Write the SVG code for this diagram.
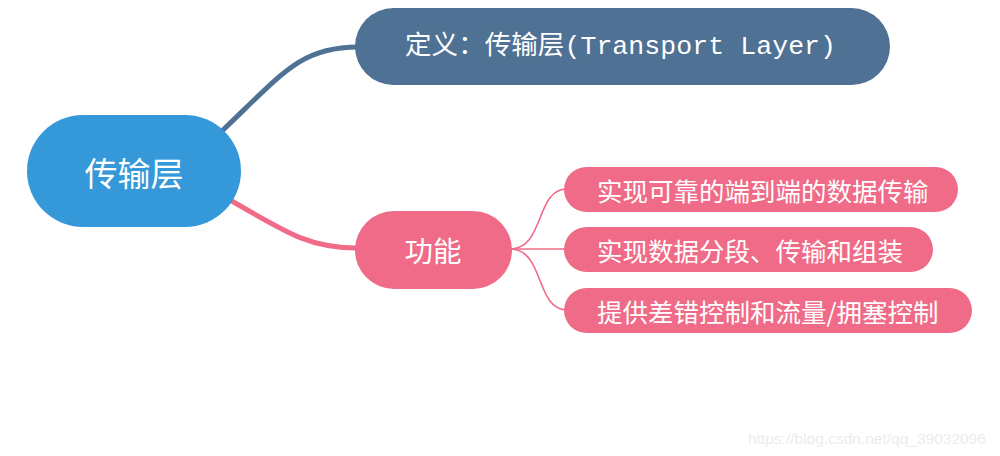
<svg xmlns="http://www.w3.org/2000/svg" width="1000" height="456" viewBox="0 0 1000 456">
  <style>
    .t { fill: #ffffff; font-family: "Noto Sans CJK SC", sans-serif; dominant-baseline: central; }
    .mono { font-family: "Liberation Mono", "Noto Sans CJK SC", monospace; }
    .blue { fill: #3598d8; }
    .slate { fill: #4f7193; }
    .pink { fill: #f06b87; }
    .c-slate { fill: none; stroke: #4f7193; stroke-width: 5; stroke-linecap: round; }
    .c-pink { fill: none; stroke: #f06b87; stroke-width: 5; stroke-linecap: round; }
    .c-thin { fill: none; stroke: #f06b87; stroke-width: 1.6; }
  </style>
  <rect width="1000" height="456" fill="#ffffff"/>
  <g id="connectors">
    <path class="c-slate" d="M222,131 C282,74 300,47 358,47"/>
    <path class="c-pink" d="M230,200 C292,236 312,248 358,248"/>
    <path class="c-thin" d="M510,249 C545,249 535,189 567,189"/>
    <path class="c-thin" d="M510,249 L567,249"/>
    <path class="c-thin" d="M510,249 C545,249 535,310 567,310"/>
  </g>
  <g id="root">
    <rect class="blue" x="27" y="115" width="214" height="112" rx="56" ry="56"/>
    <text class="t" x="134" y="172" font-size="33" text-anchor="middle">传输层</text>
  </g>
  <g id="definition">
    <rect class="slate" x="355" y="8" width="535" height="77" rx="38.5" ry="38.5"/>
    <text class="t mono" x="405" y="47" font-size="26.5" textLength="431" lengthAdjust="spacing">定义：传输层(Transport Layer)</text>
  </g>
  <g id="function">
    <rect class="pink" x="355" y="211" width="157" height="78" rx="39" ry="39"/>
    <text class="t" x="433" y="249" font-size="28.5" text-anchor="middle">功能</text>
  </g>
  <g id="sub1">
    <rect class="pink" x="564" y="167" width="394" height="45" rx="22.5" ry="22.5"/>
    <text class="t" x="597" y="189.5" font-size="25.5">实现可靠的端到端的数据传输</text>
  </g>
  <g id="sub2">
    <rect class="pink" x="564" y="227" width="369" height="45" rx="22.5" ry="22.5"/>
    <text class="t" x="597" y="249.5" font-size="25.5">实现数据分段、传输和组装</text>
  </g>
  <g id="sub3">
    <rect class="pink" x="564" y="288" width="408" height="45" rx="22.5" ry="22.5"/>
    <text class="t" x="597" y="310.5" font-size="25.5">提供差错控制和流量/拥塞控制</text>
  </g>
  <text x="748" y="444" font-size="15.5" fill="#ececec" font-family="Liberation Sans, Arial, sans-serif">https://blog.csdn.net/qq_39032096</text>
</svg>
